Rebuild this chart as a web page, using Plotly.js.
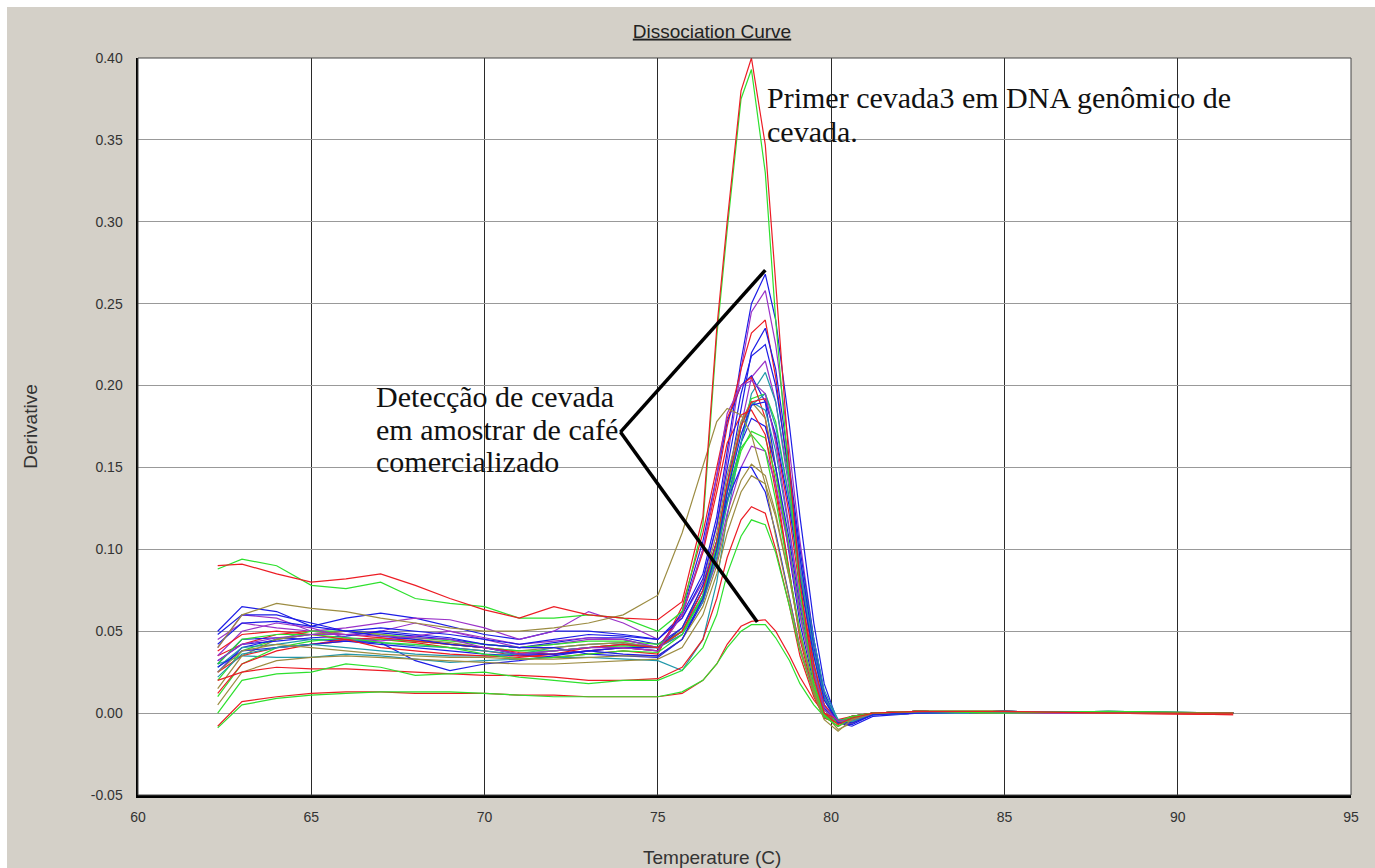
<!DOCTYPE html>
<html>
<head>
<meta charset="utf-8">
<script src="https://cdn.plot.ly/plotly-3.0.1.min.js"></script>
<style>
html,body{margin:0;padding:0;background:#ffffff;width:1375px;height:868px;overflow:hidden;}
#chart{position:absolute;left:7px;top:7px;width:1368px;height:861px;}
</style>
</head>
<body>
<div id="chart"></div>
<script>
// Temperature grid (°C)
const temperature = [62.3,63,64,65,66,67,68,69,70,71,72,73,74,75,75.7,76.3,76.7,77.0,77.4,77.7,78.1,78.4,78.8,79.1,79.5,79.8,80.2,80.6,81.2,82.5,85,88,91.6];

// Tick labels
const yTickValues = [-0.05,0,0.05,0.10,0.15,0.20,0.25,0.30,0.35,0.40];
const yTickLabels = ['-0.05','0.00','0.05','0.10','0.15','0.20','0.25','0.30','0.35','0.40'];
const xTickValues = [60,65,70,75,80,85,90,95];
const xTickLabels = ['60','65','70','75','80','85','90','95'];

// Derivative curves
const sampleBlueA   = [0.050,0.065,0.062,0.053,0.058,0.061,0.058,0.053,0.048,0.045,0.050,0.050,0.048,0.045,0.060,0.085,0.120,0.160,0.215,0.250,0.268,0.240,0.175,0.120,0.055,0.018,-0.006,-0.008,-0.002,0.000,0.001,0.000,0.000];
const samplePurpleA = [0.040,0.060,0.058,0.050,0.052,0.055,0.058,0.057,0.052,0.045,0.050,0.062,0.055,0.045,0.058,0.080,0.115,0.155,0.210,0.245,0.258,0.225,0.160,0.105,0.045,0.012,-0.006,-0.006,-0.001,0.000,0.001,0.000,0.000];
const sampleRedA    = [0.035,0.042,0.048,0.050,0.048,0.046,0.044,0.042,0.040,0.036,0.038,0.040,0.042,0.040,0.060,0.100,0.140,0.175,0.210,0.232,0.240,0.205,0.140,0.085,0.030,0.005,-0.005,-0.003,0.000,0.001,0.000,0.000,0.000];
const sampleBlueB   = [0.025,0.040,0.045,0.048,0.050,0.049,0.047,0.045,0.042,0.040,0.043,0.046,0.046,0.042,0.052,0.075,0.105,0.140,0.185,0.220,0.235,0.210,0.150,0.100,0.045,0.012,-0.005,-0.006,-0.001,0.000,0.001,0.000,0.000];
const samplePurpleB = [0.045,0.055,0.052,0.050,0.048,0.050,0.055,0.050,0.045,0.040,0.042,0.045,0.045,0.040,0.050,0.072,0.100,0.135,0.175,0.205,0.215,0.190,0.135,0.090,0.040,0.010,-0.005,-0.005,-0.001,0.000,0.000,0.001,0.000];
const sampleTealA   = [0.030,0.035,0.034,0.034,0.036,0.035,0.033,0.031,0.032,0.033,0.034,0.034,0.033,0.032,0.026,0.045,0.080,0.120,0.165,0.195,0.208,0.190,0.140,0.095,0.045,0.014,-0.004,-0.005,-0.001,0.000,0.001,0.000,0.000];
const sampleBlueC   = [0.030,0.045,0.046,0.045,0.044,0.042,0.040,0.038,0.036,0.035,0.036,0.038,0.040,0.038,0.062,0.105,0.145,0.178,0.200,0.206,0.190,0.150,0.095,0.055,0.018,0.000,-0.006,-0.003,0.000,0.001,0.000,0.000,0.000];
const sampleGreenA  = [0.020,0.038,0.045,0.050,0.050,0.048,0.046,0.044,0.042,0.040,0.042,0.044,0.044,0.042,0.050,0.070,0.100,0.135,0.175,0.192,0.195,0.178,0.130,0.085,0.035,0.008,-0.005,-0.004,0.000,0.001,0.001,0.000,0.000];
const sampleRedB    = [0.025,0.035,0.040,0.042,0.044,0.045,0.043,0.040,0.038,0.035,0.034,0.036,0.038,0.036,0.065,0.110,0.150,0.180,0.200,0.205,0.180,0.140,0.085,0.045,0.012,-0.003,-0.006,-0.002,0.000,0.001,0.000,0.000,-0.001];
const sampleTealB   = [0.028,0.040,0.042,0.045,0.045,0.043,0.041,0.040,0.038,0.036,0.040,0.042,0.043,0.040,0.050,0.072,0.105,0.140,0.175,0.190,0.185,0.160,0.110,0.070,0.028,0.005,-0.005,-0.003,0.000,0.001,0.000,0.000,0.000];
const sampleOliveA  = [0.015,0.035,0.045,0.048,0.050,0.048,0.045,0.043,0.040,0.038,0.040,0.042,0.043,0.040,0.052,0.078,0.110,0.145,0.178,0.190,0.180,0.150,0.100,0.060,0.020,0.000,-0.006,-0.003,0.000,0.001,0.001,0.000,0.000];
const sampleBlueD   = [0.032,0.042,0.044,0.046,0.047,0.050,0.048,0.046,0.042,0.040,0.040,0.036,0.035,0.034,0.045,0.068,0.098,0.130,0.165,0.180,0.175,0.150,0.105,0.065,0.025,0.003,-0.005,-0.004,0.000,0.001,0.000,0.001,0.000];
const sampleGreenB  = [0.010,0.030,0.040,0.044,0.046,0.045,0.044,0.042,0.040,0.038,0.038,0.040,0.041,0.040,0.050,0.070,0.098,0.128,0.160,0.172,0.168,0.145,0.100,0.062,0.024,0.002,-0.006,-0.003,0.000,0.001,0.000,0.000,0.000];
const sampleRedC    = [0.012,0.030,0.038,0.042,0.045,0.046,0.044,0.042,0.040,0.037,0.036,0.038,0.040,0.038,0.060,0.098,0.135,0.165,0.182,0.185,0.170,0.135,0.085,0.048,0.014,-0.002,-0.006,-0.002,0.000,0.001,0.000,0.000,0.000];
const samplePurpleC = [0.035,0.050,0.055,0.052,0.046,0.044,0.047,0.050,0.046,0.042,0.044,0.046,0.045,0.040,0.048,0.068,0.093,0.122,0.150,0.163,0.160,0.140,0.098,0.060,0.022,0.002,-0.005,-0.004,0.000,0.000,0.001,0.000,0.000];
const sampleBlueE   = [0.028,0.038,0.040,0.042,0.044,0.043,0.032,0.026,0.030,0.032,0.035,0.038,0.040,0.040,0.052,0.078,0.105,0.130,0.150,0.150,0.135,0.110,0.070,0.040,0.012,-0.002,-0.005,-0.002,0.000,0.001,0.000,0.000,0.000];
const sampleOliveB  = [0.005,0.025,0.032,0.034,0.035,0.034,0.033,0.032,0.031,0.030,0.030,0.031,0.032,0.033,0.040,0.060,0.085,0.110,0.135,0.145,0.140,0.120,0.082,0.050,0.016,0.000,-0.010,-0.006,0.000,0.001,0.000,0.000,0.000];
const sampleRedD    = [0.020,0.025,0.028,0.027,0.027,0.026,0.025,0.024,0.023,0.023,0.022,0.020,0.020,0.021,0.028,0.045,0.070,0.095,0.118,0.126,0.122,0.100,0.065,0.035,0.010,-0.003,-0.006,-0.002,0.000,0.001,0.000,0.000,0.000];
const sampleGreenC  = [0.000,0.020,0.024,0.025,0.030,0.028,0.023,0.024,0.025,0.022,0.020,0.018,0.020,0.020,0.026,0.040,0.060,0.085,0.108,0.118,0.115,0.098,0.065,0.038,0.012,-0.002,-0.008,-0.003,0.000,0.001,0.001,0.000,0.000];
const sampleRedE    = [-0.008,0.007,0.010,0.012,0.013,0.013,0.012,0.012,0.012,0.011,0.011,0.010,0.010,0.010,0.012,0.020,0.030,0.042,0.053,0.056,0.057,0.050,0.035,0.022,0.008,0.000,-0.004,-0.002,0.000,0.001,0.000,0.000,-0.001];
const sampleGreenD  = [-0.009,0.005,0.009,0.011,0.012,0.013,0.013,0.013,0.012,0.011,0.010,0.010,0.010,0.010,0.013,0.020,0.030,0.040,0.050,0.054,0.054,0.046,0.032,0.018,0.005,-0.002,-0.005,-0.002,0.000,0.001,0.001,0.000,0.000];
const sampleBlueF   = [0.048,0.060,0.060,0.055,0.050,0.052,0.050,0.048,0.045,0.042,0.045,0.048,0.047,0.045,0.058,0.082,0.115,0.150,0.195,0.218,0.225,0.200,0.145,0.095,0.040,0.010,-0.006,-0.007,-0.001,0.000,0.001,0.000,0.000];
const sampleTealC   = [0.022,0.036,0.040,0.042,0.040,0.038,0.036,0.035,0.035,0.036,0.038,0.040,0.042,0.040,0.048,0.068,0.095,0.128,0.165,0.188,0.195,0.175,0.130,0.088,0.038,0.010,-0.004,-0.005,-0.001,0.000,0.000,0.000,0.000];
const sampleRedF    = [0.038,0.048,0.050,0.048,0.045,0.040,0.038,0.036,0.035,0.034,0.036,0.040,0.042,0.040,0.050,0.075,0.105,0.140,0.175,0.190,0.192,0.168,0.120,0.075,0.030,0.005,-0.005,-0.004,0.000,0.001,0.000,0.000,0.000];
const sampleGreenE  = [0.030,0.045,0.048,0.048,0.046,0.043,0.042,0.040,0.036,0.033,0.034,0.036,0.038,0.037,0.048,0.072,0.102,0.135,0.162,0.170,0.160,0.130,0.085,0.050,0.015,-0.001,-0.006,-0.003,0.000,0.001,0.000,0.001,0.000];
const sampleOliveC  = [0.025,0.038,0.042,0.040,0.038,0.036,0.035,0.034,0.034,0.033,0.033,0.034,0.035,0.035,0.045,0.065,0.090,0.118,0.142,0.152,0.145,0.122,0.082,0.048,0.014,-0.002,-0.008,-0.004,0.000,0.001,0.000,0.000,0.000];
const sampleBlueG   = [0.042,0.055,0.056,0.053,0.050,0.047,0.045,0.042,0.040,0.036,0.036,0.038,0.036,0.035,0.045,0.070,0.100,0.135,0.170,0.188,0.190,0.170,0.125,0.082,0.035,0.008,-0.006,-0.006,-0.001,0.000,0.001,0.000,0.000];
const samplePurpleD = [0.032,0.042,0.046,0.048,0.048,0.047,0.046,0.045,0.040,0.036,0.038,0.040,0.040,0.038,0.060,0.100,0.145,0.183,0.200,0.203,0.195,0.165,0.112,0.068,0.025,0.004,-0.005,-0.004,0.000,0.001,0.000,0.000,0.000];
const sampleOliveD  = [0.040,0.060,0.067,0.064,0.062,0.058,0.055,0.052,0.050,0.050,0.052,0.055,0.060,0.072,0.110,0.150,0.178,0.186,0.182,0.170,0.140,0.108,0.068,0.040,0.012,-0.004,-0.011,-0.004,0.000,0.001,0.001,0.000,0.000];
const genomicGreen  = [0.088,0.094,0.090,0.078,0.076,0.080,0.070,0.067,0.065,0.058,0.058,0.060,0.058,0.050,0.062,0.115,0.230,0.295,0.375,0.393,0.330,0.240,0.140,0.075,0.018,-0.002,-0.008,-0.003,0.000,0.001,0.000,0.001,0.000];
const genomicRed    = [0.090,0.091,0.085,0.080,0.082,0.085,0.078,0.070,0.063,0.058,0.065,0.060,0.058,0.057,0.068,0.120,0.235,0.300,0.380,0.400,0.347,0.260,0.150,0.080,0.022,0.000,-0.007,-0.003,0.000,0.001,0.001,0.000,0.000];

const seriesList = [
  {name:'Blue A', y:sampleBlueA, kind:'blue'},
  {name:'Purple A', y:samplePurpleA, kind:'purple'},
  {name:'Red A', y:sampleRedA, kind:'red'},
  {name:'Blue B', y:sampleBlueB, kind:'blue'},
  {name:'Purple B', y:samplePurpleB, kind:'purple'},
  {name:'Teal A', y:sampleTealA, kind:'teal'},
  {name:'Blue C', y:sampleBlueC, kind:'blue'},
  {name:'Green A', y:sampleGreenA, kind:'green'},
  {name:'Red B', y:sampleRedB, kind:'red'},
  {name:'Teal B', y:sampleTealB, kind:'teal'},
  {name:'Olive A', y:sampleOliveA, kind:'olive'},
  {name:'Blue D', y:sampleBlueD, kind:'blue'},
  {name:'Green B', y:sampleGreenB, kind:'green'},
  {name:'Red C', y:sampleRedC, kind:'red'},
  {name:'Purple C', y:samplePurpleC, kind:'purple'},
  {name:'Blue E', y:sampleBlueE, kind:'blue'},
  {name:'Olive B', y:sampleOliveB, kind:'olive'},
  {name:'Red D', y:sampleRedD, kind:'red'},
  {name:'Green C', y:sampleGreenC, kind:'green'},
  {name:'Red E', y:sampleRedE, kind:'red'},
  {name:'Green D', y:sampleGreenD, kind:'green'},
  {name:'Blue F', y:sampleBlueF, kind:'blue'},
  {name:'Teal C', y:sampleTealC, kind:'teal'},
  {name:'Red F', y:sampleRedF, kind:'red'},
  {name:'Green E', y:sampleGreenE, kind:'green'},
  {name:'Olive C', y:sampleOliveC, kind:'olive'},
  {name:'Blue G', y:sampleBlueG, kind:'blue'},
  {name:'Purple D', y:samplePurpleD, kind:'purple'},
  {name:'Olive D', y:sampleOliveD, kind:'olive'},
  {name:'Genomic green', y:genomicGreen, kind:'green'},
  {name:'Genomic red', y:genomicRed, kind:'red'}
];

const palette = {red:'#ec1c24', green:'#2ee02e', blue:'#1c1ce6', purple:'#9a32c8', teal:'#2298aa', olive:'#9c8c42'};

const traces = seriesList.map(s => ({
  type:'scatter', mode:'lines', name:s.name,
  x: temperature, y: s.y,
  line:{color: palette[s.kind], width:1.2},
  hoverinfo:'skip'
}));

const tickFont = {family:'"Liberation Sans Narrow", "Arial Narrow", "Liberation Sans", Arial, sans-serif', size:14, color:'#333333'};
const labelFont = {family:'"Liberation Sans", Arial, sans-serif', size:19, color:'#333333'};
const serif = {family:'"Liberation Serif", "Times New Roman", serif', size:30, color:'#111111'};

function serifLine(text, x, y) {
  return {xref:'x', yref:'y', x:x, y:y, xanchor:'left', yanchor:'top', align:'left', showarrow:false, text:text, font:serif};
}

const layout = {
  width:1368, height:861,
  paper_bgcolor:'#d4d0c8', plot_bgcolor:'#ffffff',
  margin:{l:131, r:24, t:51, b:73},
  showlegend:false,
  title:{text:'<u>Dissociation Curve</u>', font:{family:'"Liberation Sans", Arial, sans-serif', size:19, color:'#222222'},
         x:(712-7)/1368, xref:'container', xanchor:'center', y:1-24/861, yref:'container', yanchor:'middle'},
  xaxis:{range:[60,95], tickmode:'array', tickvals:xTickValues, ticktext:xTickLabels, showgrid:true, gridcolor:'#2a2a2a', gridwidth:1,
         zeroline:false, showline:true, linecolor:'#000000', linewidth:2.5,
         ticks:'outside', ticklen:8, tickcolor:'#d4d0c8', tickfont:tickFont},
  yaxis:{range:[-0.05,0.40], tickmode:'array', tickvals:yTickValues, ticktext:yTickLabels, showgrid:true, gridcolor:'#999999', gridwidth:1.2,
         zeroline:false, showline:true, linecolor:'#000000', linewidth:2.5,
         ticks:'outside', ticklen:10, tickcolor:'#d4d0c8', tickfont:tickFont,
         title:{text:'Derivative', font:labelFont, standoff:48}},
  shapes:[
    {type:'rect', xref:'paper', yref:'paper', x0:0, x1:1, y0:0, y1:1, line:{color:'#444444', width:1}},
    {type:'line', xref:'x', yref:'y', x0:73.92, y0:0.1716, x1:78.1, y1:0.2705, line:{color:'#000000', width:3.5}},
    {type:'line', xref:'x', yref:'y', x0:73.92, y0:0.1716, x1:77.87, y1:0.0556, line:{color:'#000000', width:3.5}}
  ],
  annotations:[
    {xref:'paper', yref:'paper', x:(712-138)/1213, y:-(857-795)/737, xanchor:'center', yanchor:'middle', showarrow:false,
     text:'Temperature (C)', font:labelFont},
    serifLine('Primer cevada3 em DNA genômico de', 78.10, 0.3871),
    serifLine('cevada.', 78.10, 0.3663),
    serifLine('Detecção de cevada', 66.81, 0.2045),
    serifLine('em amostrar de café', 66.81, 0.1844),
    serifLine('comercializado', 66.81, 0.1649)
  ]
};

Plotly.newPlot('chart', traces, layout, {displayModeBar:false, staticPlot:true});
</script>
</body>
</html>
